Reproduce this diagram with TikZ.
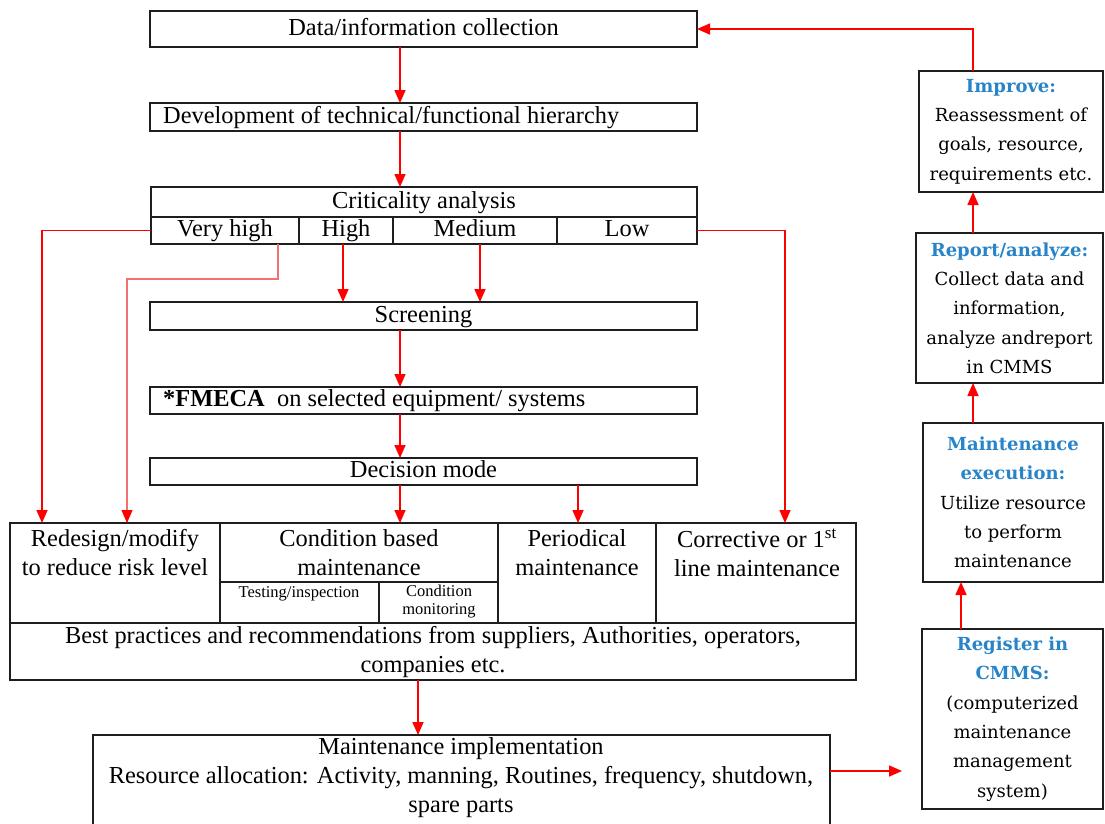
\documentclass[tikz,border=0pt]{standalone}
\usepackage{fontspec}
\setmainfont{Liberation Serif}
\newfontfamily\sidefont{DejaVu Serif}
\usetikzlibrary{arrows.meta}

\definecolor{linkred}{RGB}{255,0,0}
\definecolor{softred}{RGB}{242,112,112}
\definecolor{headblue}{RGB}{40,132,200}
\definecolor{framegray}{RGB}{30,30,30}

\tikzset{
  frame/.style={draw=framegray, line width=1.8pt, rectangle, inner sep=0pt, outer sep=0pt},
  txt/.style={inner sep=0pt, align=center, font=\fontsize{24.4}{29}\selectfont, text height=17pt, text depth=5pt},
  txtml/.style={inner sep=0pt, align=center, font=\fontsize{24.4}{29}\selectfont},
  smalltxt/.style={inner sep=0pt, align=center, font=\fontsize{16.5}{18}\selectfont},
  side/.style={align=center, font=\sidefont\fontsize{18}{29.3}\selectfont},
  arr/.style={draw=linkred, line width=1.6pt, -{Triangle[length=13pt,width=11pt]}},
  thinarr/.style={draw=softred, line width=1.1pt, -{Triangle[length=13pt,width=11pt,color=linkred]}}
}

% a framed box given by its corners (x1,y1) (x2,y2), y counted downwards
\newcommand\mkbox[7][]{%
  \node[frame, minimum width={#5-#3}, minimum height={#6-#4}, #1] (#2)
    at ({(#3+#5)/2},{(#4+#6)/2}) {#7};}
\newcommand\headtxt[1]{\textcolor{headblue}{\bfseries #1}}

\begin{document}
\begin{tikzpicture}[x=1pt, y=-1pt]
\useasboundingbox (0,0) rectangle (1105,823);

% ---- main flow ----
\mkbox[txt]{data}{150}{11}{697}{47}{Data/information collection}
\mkbox{dev}{150}{103}{697}{131}{}
\node[txt, anchor=west] (devtext) at (163,117) {Development of technical/functional hierarchy};

\mkbox[txt]{crit}{151}{187}{697}{217}{Criticality analysis}
\mkbox[txt]{vhigh}{151}{217}{299}{244}{Very high}
\mkbox[txt]{high}{299}{217}{393}{244}{High}
\mkbox[txt]{medium}{393}{217}{557}{244}{Medium}
\mkbox[txt]{low}{557}{217}{697}{244}{Low}

\mkbox[txt]{screen}{150}{302}{697}{330}{Screening}
\mkbox{fmeca}{150}{387}{697}{414}{}
\node[txt, anchor=west] (fmecatext) at (163,400) {{\bfseries *FMECA}\ \ on selected equipment/ systems};
\mkbox[txt]{decide}{150}{458}{697}{485}{Decision mode}

% ---- maintenance strategy table ----
\mkbox{redesign}{10}{523}{220}{623}{}
\mkbox[txtml]{cbm}{220}{523}{498}{582}{Condition based\\maintenance}
\mkbox{testing}{220}{582}{379}{623}{}
\mkbox{condmon}{379}{582}{498}{623}{}
\mkbox{periodic}{498}{523}{656}{623}{}
\mkbox{corrective}{656}{523}{856}{623}{}
\mkbox[txtml]{best}{10}{623}{856}{680}{Best practices and recommendations from suppliers, Authorities, operators,\\companies etc.}

\node[txtml] (redesigntext) at (115,552.5) {Redesign/modify\\to reduce risk level};
\node[smalltxt] (testingtext) at (299,594) {Testing/inspection};
\node[smalltxt] (condmontext) at (439,602) {Condition\\monitoring};
\node[txtml] (periodictext) at (577,552.5) {Periodical\\maintenance};
\node[txtml] (correctivetext) at (757,552.5) {Corrective or 1\textsuperscript{st}\\line maintenance};

% ---- implementation ----
\mkbox{impl}{93}{735}{830}{830}{}
\node[txtml] (impltext) at (461,777.5) {Maintenance implementation\\Resource allocation: Activity, manning, Routines, frequency, shutdown,\\spare parts};

% ---- CMMS loop ----
\mkbox[side]{improve}{919}{71}{1103}{192}{\headtxt{Improve:}\\Reassessment of\\goals, resource,\\requirements etc.}
\mkbox[side]{report}{916}{233}{1103}{383}{\headtxt{Report/analyze:}\\Collect data and\\information,\\analyze andreport\\in CMMS}
\mkbox[side]{exec}{923}{423}{1103}{582}{\headtxt{Maintenance}\\\headtxt{execution:}\\Utilize resource\\to perform\\maintenance}
\mkbox[side]{register}{922}{629}{1103}{809}{\headtxt{Register in}\\\headtxt{CMMS:}\\(computerized\\maintenance\\management\\system)}

% ---- connector columns ----
\coordinate (spine) at (400,0);
\coordinate (hiX) at (343,0);
\coordinate (medX) at (480,0);
\coordinate (perX) at (578,0);
\coordinate (leftX) at (42,0);
\coordinate (rightX) at (785,0);
\coordinate (pinkA) at (278,279);
\coordinate (pinkB) at (127,279);
\coordinate (implX) at (418,0);
\coordinate (outY) at (0,771);
\coordinate (regX) at (961,0);
\coordinate (loopX) at (973,0);

% ---- connectors ----
\draw[arr] (data.south -| spine) -- (dev.north -| spine);
\draw[arr] (dev.south -| spine) -- (crit.north -| spine);
\draw[arr] (high.south -| hiX) -- (screen.north -| hiX);
\draw[arr] (medium.south -| medX) -- (screen.north -| medX);
\draw[arr] (screen.south -| spine) -- (fmeca.north -| spine);
\draw[arr] (fmeca.south -| spine) -- (decide.north -| spine);
\draw[arr] (decide.south -| spine) -- (cbm.north -| spine);
\draw[arr] (decide.south -| perX) -- (periodic.north -| perX);
\draw[arr] (vhigh.west) -| (redesign.north -| leftX);
\draw[thinarr] (vhigh.south -| pinkA) -- (pinkA) -- (pinkB) -- (redesign.north -| pinkB);
\draw[arr] (low.east) -| (corrective.north -| rightX);
\draw[arr] (best.south -| implX) -- (impl.north -| implX);
\draw[arr, shorten >=20pt] (impl.east |- outY) -- (register.west |- outY);
\draw[arr] (register.north -| regX) -- (exec.south -| regX);
\draw[arr] (exec.north -| loopX) -- (report.south -| loopX);
\draw[arr] (report.north -| loopX) -- (improve.south -| loopX);
\draw[arr] (improve.north -| loopX) |- (data.east);
\end{tikzpicture}
\end{document}
